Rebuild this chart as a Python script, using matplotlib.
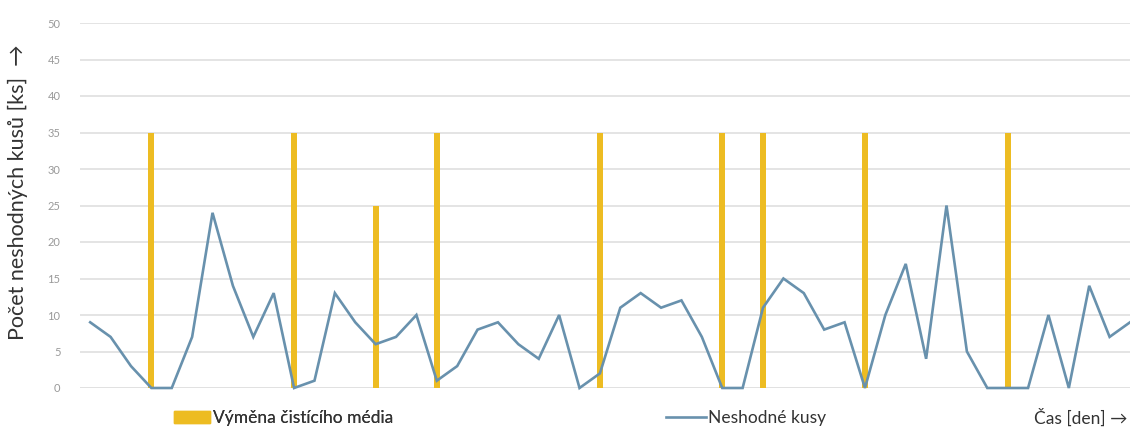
import matplotlib.pyplot as plt
import matplotlib.patches as patches
from matplotlib.lines import Line2D
import numpy as np

# data
defects = [9, 7, 3, 0, 0, 7, 24, 14, 7, 13,
           0, 1, 13, 9, 6, 7, 10, 1, 3, 8,
           9, 6, 4, 10, 0, 2, 11, 13, 11, 12,
           7, 0, 0, 11, 15, 13, 8, 9, 0, 10,
           17, 4, 25, 5, 0, 0, 0, 10, 0, 14,
           7, 9]
days = np.arange(1, len(defects) + 1)

# days when the cleaning medium was changed
change_days = [4, 11, 15, 18, 26, 32, 34, 39, 46]
change_heights = [35, 35, 25, 35, 35, 35, 35, 35, 35]

y_ticks = list(range(0, 55, 5))

gold = '#EDBC22'
blue = '#6891AD'
plt.rcParams['font.family'] = ['Lato', 'DejaVu Sans']

fig = plt.figure(figsize=(11.3, 4.3), dpi=100)
ax = fig.add_axes([80 / 1130, 42 / 430, 1050 / 1130, 365 / 430])

ax.bar(change_days, change_heights, width=0.3, color=gold, zorder=2)
ax.plot(days, defects, color=blue, lw=1.9, zorder=3, clip_on=False,
        solid_joinstyle='miter')

ax.set_xlim(0.5, 52)
ax.set_ylim(0, 50)
ax.set_yticks(y_ticks)
ax.set_yticklabels([str(v) for v in y_ticks], fontsize=8, color='#999999')
ax.set_xticks([])
ax.tick_params(axis='y', length=0, pad=14)
for s in ax.spines.values():
    s.set_visible(False)
ax.grid(axis='y', color='#e2e2e2', lw=1.3, zorder=0)
ax.axhline(0, color='#d8d8d8', lw=1.3, zorder=1)

fig.text(18 / 1130, 0.553, 'Počet neshodných kusů [ks]  \u2192', rotation=90,
         ha='center', va='center', fontsize=15.5, color='#333333')

# legend entries placed like the original
h_bar = patches.Patch(color=gold)
leg1 = fig.legend([h_bar], ['Výměna čistícího média'], loc='center left',
                  bbox_to_anchor=(158 / 1130, 12 / 430), frameon=False,
                  fontsize=12.5, handlelength=2.1, handleheight=0.75,
                  handletextpad=0.15, labelcolor='#333333')
h_line = Line2D([0], [0], color=blue, lw=1.9)
fig.legend([h_line], ['Neshodné kusy'], loc='center left',
           bbox_to_anchor=(650 / 1130, 12 / 430), frameon=False,
           fontsize=12.5, handlelength=2.3, handletextpad=0.15,
           labelcolor='#333333')
fig.add_artist(leg1)

fig.text(1127 / 1130, 12 / 430, 'Čas [den] \u2192', ha='right', va='center',
         fontsize=12.5, color='#333333')

fig.savefig('out.png', dpi=100, facecolor='white')
